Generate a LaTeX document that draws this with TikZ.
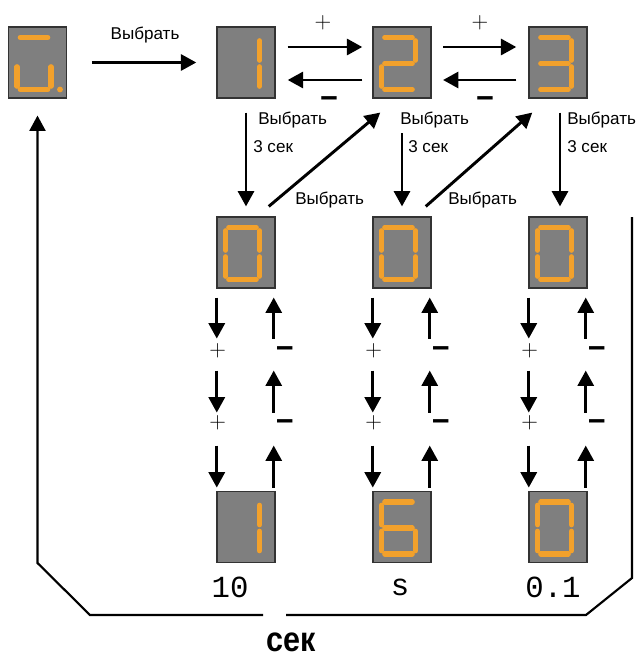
\documentclass[tikz,border=0pt]{standalone}
\usepackage{fontspec}
\setmainfont{Liberation Sans}
\setmonofont{Liberation Mono}
\usetikzlibrary{arrows.meta,calc,positioning}
\definecolor{ledorange}{HTML}{F2A12C}
\definecolor{panelgray}{HTML}{7F7F7F}
\definecolor{paneledge}{HTML}{333333}
\tikzset{
  disp/.style={rectangle,draw=paneledge,fill=panelgray,line width=1.1pt,
    minimum width=43.5pt,minimum height=53pt,inner sep=0pt},
  seg/.style={draw=ledorange,line width=3.8pt,line cap=round,
    shorten <=2.4pt,shorten >=2.4pt},
  arr/.style={-{Triangle[length=11.5pt,width=12pt]},line width=2.2pt},
  frame/.style={line width=1.6pt},
  lbl/.style={font=\fontsize{12.8}{14}\selectfont,inner sep=0pt},
  plus/.style={font=\fontsize{19}{20}\selectfont,inner sep=0pt},
  minus/.style={font=\bfseries\fontsize{23}{24}\selectfont,inner sep=0pt,yshift=-4pt},
  unit/.style={font=\ttfamily\fontsize{23}{26}\selectfont,inner sep=0pt},
  big/.style={font=\bfseries\fontsize{26}{28}\selectfont,xscale=0.88,inner sep=0pt}
}
% seven segment digit inside a display node
\newcommand{\leddigit}[2]{%
  \begin{scope}[shift={($(#1.center)+(-3.5,1)$)}]
    \coordinate (TL) at (-17,-26); \coordinate (TR) at (17,-26);
    \coordinate (ML) at (-17,0);   \coordinate (MR) at (17,0);
    \coordinate (BL) at (-17,26);  \coordinate (BR) at (17,26);
    \foreach \p/\q in {#2} \draw[seg] (\p) -- (\q);
  \end{scope}}

\begin{document}
\begin{tikzpicture}[x=0.75pt,y=-0.75pt]
\useasboundingbox (0,0) rectangle (639,660);
% displays
\node[disp] (sel) at (37.5,62.5) {};
\node[disp] (one) at (246,62.5) {};
\node[disp] (two) at (402,62.5) {};
\node[disp] (three) at (558,62.5) {};
\node[disp] (zeroA) at (246,252.5) {};
\node[disp] (zeroB) at (402,252.5) {};
\node[disp] (zeroC) at (558,252.5) {};
\node[disp] (valA) at (246,527) {};
\node[disp] (valB) at (402,527) {};
\node[disp] (valC) at (558,527) {};
% digits
\leddigit{sel}{TL/TR,ML/BL,BL/BR,MR/BR}
\fill[ledorange] ($(sel.center)+(22.5,27)$) circle (2.2pt);
\leddigit{one}{TR/MR,MR/BR}
\leddigit{two}{TL/TR,TR/MR,ML/MR,ML/BL,BL/BR}
\leddigit{three}{TL/TR,TR/MR,ML/MR,MR/BR,BL/BR}
\foreach \d in {zeroA,zeroB,zeroC,valC} {
  \leddigit{\d}{TL/TR,TR/MR,MR/BR,BL/BR,ML/BL,TL/ML}
}
\leddigit{valA}{TR/MR,MR/BR}
\leddigit{valB}{TL/TR,TL/ML,ML/MR,ML/BL,BL/BR,MR/BR}

% top row
\draw[arr,shorten <=18.5pt,shorten >=15pt] (sel.east) -- (one.west);
\node[lbl] (selTxt) at (145,35) {Выбрать};
\draw[arr,shorten <=9pt,shorten >=7.5pt] ($(one.east)+(0,-15.5)$) -- ($(two.west)+(0,-15.5)$);
\draw[arr,shorten <=7.5pt,shorten >=9pt] ($(two.west)+(0,17.5)$) -- ($(one.east)+(0,17.5)$);
\draw[arr,shorten <=8.5pt,shorten >=9pt] ($(two.east)+(0,-15.5)$) -- ($(three.west)+(0,-15.5)$);
\draw[arr,shorten <=9pt,shorten >=8.5pt] ($(three.west)+(0,17.5)$) -- ($(two.east)+(0,17.5)$);
\node[plus] (upA) at (323,23) {$+$};
\node[minus] (dnA) at (329,97) {−};
\node[plus] (upB) at (480,23) {$+$};
\node[minus] (dnB) at (485,97) {−};

% into the setting row
\draw[arr,shorten <=10.5pt,shorten >=7.5pt] (one.south) -- (zeroA.north);
\draw[arr,shorten <=26pt,shorten >=7.5pt] (two.south) -- (zeroB.north);
\draw[arr,shorten <=10.5pt,shorten >=7.5pt] ([xshift=1.5pt]three.south) -- ([xshift=1.5pt]zeroC.north);
\draw[arr] ($(zeroA.north east)+(-7,-10)$) -- ($(two.south west)+(8,14)$);
\draw[arr] ($(zeroB.north east)+(-6,-10)$) -- ($(three.south west)+(4,14)$);
\node[lbl,anchor=west] (hA) at (258,120) {Выбрать};
\node[lbl,anchor=west] (tA) at (253,147) {3 сек};
\node[lbl,anchor=west] (hB) at (400,120) {Выбрать};
\node[lbl,anchor=west] (tB) at (408,147) {3 сек};
\node[lbl,anchor=west] (hC) at (567,120) {Выбрать};
\node[lbl,anchor=west] (tC) at (567,147) {3 сек};
\node[lbl,anchor=west] (backA) at (295,200) {Выбрать};
\node[lbl,anchor=west] (backB) at (448,200) {Выбрать};

% plus / minus ladders
\foreach \k in {A,B,C} {
  \foreach \a/\b in {9/50,82/124,157/199} {
    \draw[arr] ($(zero\k.south west)+(0.5,\a)$) -- ($(zero\k.south west)+(0.5,\b)$);
    \draw[arr] ($(zero\k.south east)+(-2,\b)$) -- ($(zero\k.south east)+(-2,\a)$);
  }
  \node[plus] (pa\k) at ($(zero\k.south west)+(1.5,62)$) {$+$};
  \node[plus] (pb\k) at ($(zero\k.south west)+(1.5,134)$) {$+$};
  \node[minus] (ma\k) at ($(zero\k.south east)+(9,59)$) {−};
  \node[minus] (mb\k) at ($(zero\k.south east)+(9,132)$) {−};
}
\node[unit] (uA) at (230,587) {10};
\node[unit] (uB) at (400,587) {s};
\node[unit] (uC) at (553,587) {0.1};

% frame back to the start
\coordinate (frA) at (632,217);
\coordinate (frB) at (632,578);
\coordinate (frC) at (586,615);
\coordinate (frD) at (286,615);
\coordinate (frE) at (263,615);
\coordinate (frF) at (90,615);
\coordinate (frG) at (37.5,563);
\draw[frame] (frA) -- (frB) -- (frC) -- (frD);
\draw[frame,-{Triangle[length=11.5pt,width=12pt]},shorten >=12.75pt] (frE) -- (frF) -- (frG) -- (sel.south);
\node[big] (secTxt) at (291.5,642) {сек};
\end{tikzpicture}
\end{document}
